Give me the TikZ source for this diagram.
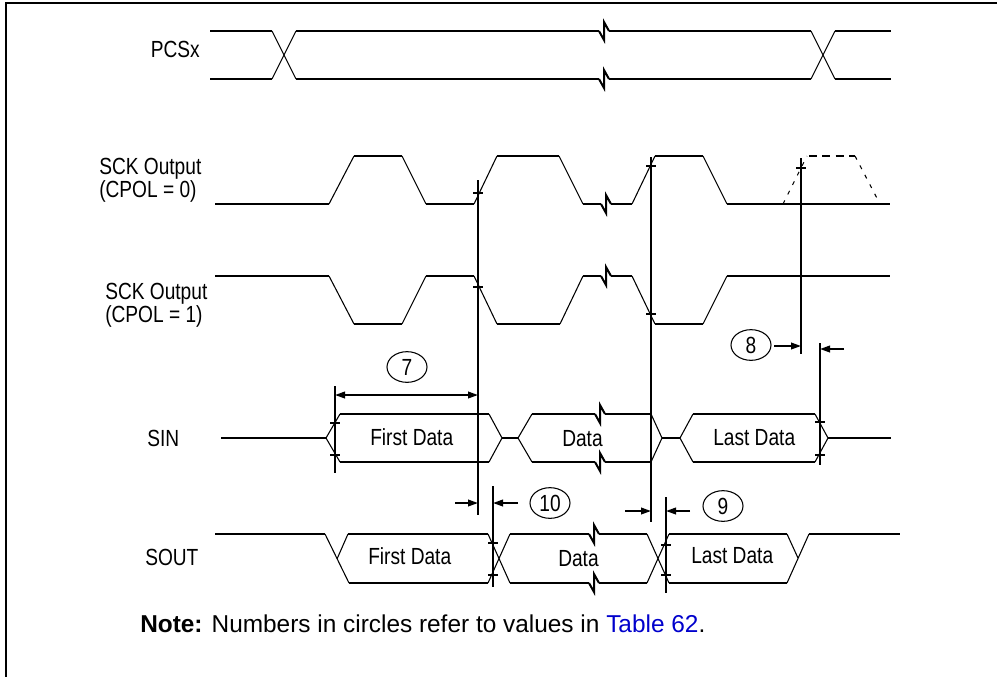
\documentclass[tikz,border=0pt]{standalone}
\usepackage{fontspec}
\usetikzlibrary{arrows.meta,shapes.geometric}
\newfontfamily\labfont[FakeStretch=0.82]{Liberation Sans}
\newfontfamily\notefont{Liberation Sans}
\definecolor{linkblue}{RGB}{0,0,204}
\begin{document}
\begin{tikzpicture}[x=0.75pt,y=-0.75pt,
 hl/.style={line width=1.5pt},
 dl/.style={line width=0.8pt},
 vl/.style={line width=1.5pt},
 tk/.style={line width=1.2pt},
 dimarrow/.style={line width=1.3pt,-{Triangle[length=7.5pt,width=5pt]}},
 dimboth/.style={line width=1.3pt,{Triangle[length=7.5pt,width=5pt]}-{Triangle[length=7.5pt,width=5pt]}},
 lbl/.style={font=\labfont\fontsize{17.5pt}{21pt}\selectfont,inner sep=0pt,anchor=base west},
 num/.style={ellipse,draw,line width=0.8pt,minimum width=30pt,minimum height=23pt,inner sep=0pt,font=\labfont\fontsize{17.5pt}{21pt}\selectfont},
 brk/.pic={\draw[hl] (-5,0) -- (0,9) -- (0,-9) -- (5,0);},
 tickmark/.pic={\draw[tk] (-5,0) -- (5,0);},
]
\useasboundingbox (0,0) rectangle (997,676);
% frame
\draw[line width=1.7pt] (6,680) -- (6,3) -- (1000,3);

% ---------- labels ----------
\node[lbl,anchor=base east] (lpcs) at (200,57) {PCSx};
\node[lbl] (lsck0a) at (99,174) {SCK Output};
\node[lbl] (lsck0b) at (99,197) {(CPOL = 0)};
\node[lbl] (lsck1a) at (105,299) {SCK Output};
\node[lbl] (lsck1b) at (105,322) {(CPOL = 1)};
\node[lbl] (lsin) at (147,446) {SIN};
\node[lbl] (lsout) at (145,565) {SOUT};

% ---------- PCSx ----------
\draw[hl] (210,31) -- (272,31);
\draw[hl] (210,79) -- (272,79);
\draw[dl] (272,31) -- (296,79);
\draw[dl] (272,79) -- (296,31);
\draw[hl] (296,31) -- (599,31);
\draw[hl] (296,79) -- (599,79);
\path (604,31) pic {brk};
\path (604,79) pic {brk};
\draw[hl] (609,31) -- (811,31);
\draw[hl] (609,79) -- (811,79);
\draw[dl] (811,31) -- (835,79);
\draw[dl] (811,79) -- (835,31);
\draw[hl] (835,31) -- (891,31);
\draw[hl] (835,79) -- (891,79);

% ---------- SCK CPOL = 0 ----------
\draw[hl] (215,204) -- (329,204);
\draw[dl] (329,204) -- (354,156);
\draw[hl] (354,156) -- (402,156);
\draw[dl] (402,156) -- (426,204);
\draw[hl] (426,204) -- (474,204);
\draw[dl] (474,204) -- (497,156);
\draw[hl] (497,156) -- (559,156);
\draw[dl] (559,156) -- (583,204);
\draw[hl] (583,204) -- (601,204);
\path (606,204) pic {brk};
\draw[hl] (611,204) -- (632,204);
\draw[dl] (632,204) -- (655,156);
\draw[hl] (655,156) -- (703,156);
\draw[dl] (703,156) -- (727,204);
\draw[hl] (727,204) -- (890,204);
\draw[dl,dash pattern=on 3pt off 5pt] (783,204) -- (807,156);
\draw[hl,dash pattern=on 6pt off 4pt] (809,156) -- (855,156);
\draw[dl,dash pattern=on 3pt off 5pt] (855,156) -- (880,204);

% ---------- SCK CPOL = 1 ----------
\draw[hl] (215,276) -- (329,276);
\draw[dl] (329,276) -- (354,324);
\draw[hl] (354,324) -- (402,324);
\draw[dl] (402,324) -- (426,276);
\draw[hl] (426,276) -- (474,276);
\draw[dl] (474,276) -- (497,324);
\draw[hl] (497,324) -- (560,324);
\draw[dl] (560,324) -- (583,276);
\draw[hl] (583,276) -- (601,276);
\path (606,276) pic {brk};
\draw[hl] (611,276) -- (632,276);
\draw[dl] (632,276) -- (655,324);
\draw[hl] (655,324) -- (703,324);
\draw[dl] (703,324) -- (727,276);
\draw[hl] (727,276) -- (890,276);

% ---------- SIN ----------
\draw[hl] (221,438) -- (326,438);
\draw[dl] (340,414) -- (326,438) -- (340,462);
\draw[hl] (340,414) -- (489,414);
\draw[hl] (340,462) -- (489,462);
\draw[dl] (489,414) -- (502,438) -- (489,462);
\draw[hl] (502,438) -- (518,438);
\draw[dl] (532,414) -- (518,438) -- (532,462);
\draw[hl] (532,414) -- (595,414);
\draw[hl] (532,462) -- (595,462);
\path (600,414) pic {brk};
\path (600,462) pic {brk};
\draw[hl] (605,414) -- (651,414);
\draw[hl] (605,462) -- (651,462);
\draw[dl] (651,414) -- (662,438) -- (651,462);
\draw[hl] (662,438) -- (680,438);
\draw[dl] (693,414) -- (680,438) -- (693,462);
\draw[hl] (693,414) -- (815,414);
\draw[hl] (693,462) -- (815,462);
\draw[dl] (815,414) -- (828,438) -- (815,462);
\draw[hl] (828,438) -- (891,438);
\node[lbl] (sin1) at (370,445) {First Data};
\node[lbl] (sin2) at (562,446) {Data};
\node[lbl] (sin3) at (713,445) {Last Data};

% ---------- SOUT ----------
\draw[hl] (215,534) -- (325,534);
\draw[dl] (325,534) -- (349,583);
\draw[dl] (348,534) -- (337,559);
\draw[hl] (348,534) -- (488,534);
\draw[hl] (349,583) -- (488,583);
\draw[dl] (488,534) -- (510,583);
\draw[dl] (488,583) -- (510,534);
\draw[hl] (510,534) -- (589,534);
\draw[hl] (510,583) -- (589,583);
\path (594,534) pic {brk};
\path (594,583) pic {brk};
\draw[hl] (599,534) -- (647,534);
\draw[hl] (599,583) -- (647,583);
\draw[dl] (647,534) -- (669,583);
\draw[dl] (647,583) -- (669,534);
\draw[hl] (669,534) -- (787,534);
\draw[hl] (669,583) -- (787,583);
\draw[dl] (787,534) -- (798,558);
\draw[dl] (787,583) -- (809,534);
\draw[hl] (809,534) -- (900,534);
\node[lbl] (sout1) at (368,564) {First Data};
\node[lbl] (sout2) at (558,566) {Data};
\node[lbl] (sout3) at (691,563) {Last Data};

% ---------- timing lines ----------
\coordinate (A1) at (478,180); \coordinate (A2) at (478,515);
\coordinate (B1) at (651,157); \coordinate (B2) at (651,522);
\coordinate (C1) at (801,158); \coordinate (C2) at (801,354);
\coordinate (D1) at (820,343); \coordinate (D2) at (820,465);
\coordinate (E1) at (335,386); \coordinate (E2) at (335,473);
\coordinate (F1) at (493,486); \coordinate (F2) at (493,587);
\coordinate (G1) at (666,497); \coordinate (G2) at (666,593);
\draw[vl] (A1) -- (A2);
\draw[vl] (B1) -- (B2);
\draw[vl] (C1) -- (C2);
\draw[vl] (D1) -- (D2);
\draw[vl] (E1) -- (E2);
\draw[vl] (F1) -- (F2);
\draw[vl] (G1) -- (G2);
\path (478,193) pic {tickmark};
\path (478,287) pic {tickmark};
\path (651,166) pic {tickmark};
\path (651,314) pic {tickmark};
\path (801,168) pic {tickmark};
\path (820,422) pic {tickmark};
\path (820,455) pic {tickmark};
\path (335,423) pic {tickmark};
\path (335,455) pic {tickmark};
\path (493,543) pic {tickmark};
\path (493,575) pic {tickmark};
\path (666,545) pic {tickmark};
\path (666,575) pic {tickmark};

% ---------- dimensions ----------
\coordinate (d7a) at (335,395); \coordinate (d7b) at (478,395);
\draw[dimboth] (d7a) -- (d7b);
\node[num] (n7) at (407,367) {7};

\coordinate (d10a) at (455,503); \coordinate (d10b) at (478,503);
\coordinate (d10c) at (518,503); \coordinate (d10d) at (493,503);
\draw[dimarrow] (d10a) -- (d10b);
\draw[dimarrow] (d10c) -- (d10d);
\node[num] (n10) at (550,503) {10};

\coordinate (d9a) at (625,511); \coordinate (d9b) at (651,511);
\coordinate (d9c) at (690,511); \coordinate (d9d) at (666,511);
\draw[dimarrow] (d9a) -- (d9b);
\draw[dimarrow] (d9c) -- (d9d);
\node[num] (n9) at (723,506) {9};

\coordinate (d8a) at (774,346); \coordinate (d8b) at (801,346);
\coordinate (d8c) at (844,349); \coordinate (d8d) at (820,349);
\draw[dimarrow] (d8a) -- (d8b);
\draw[dimarrow] (d8c) -- (d8d);
\node[num] (n8) at (751,345) {8};

% ---------- note ----------
\node[inner sep=0pt,anchor=base west,font=\notefont\fontsize{18.3pt}{22pt}\selectfont] (note) at (140,632)
  {\textbf{Note:} Numbers in circles refer to values in \textcolor{linkblue}{Table 62}.};
\end{tikzpicture}
\end{document}
